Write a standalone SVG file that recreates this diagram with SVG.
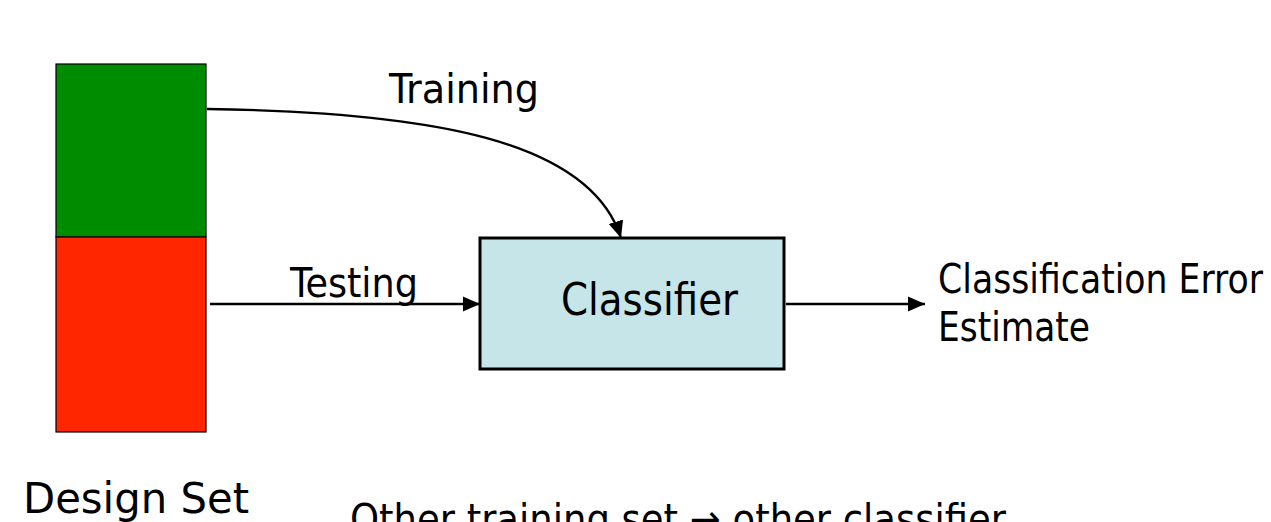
<svg xmlns="http://www.w3.org/2000/svg" width="1271" height="522" viewBox="0 0 1271 522">
<style>
text{font-family:"DejaVu Sans Condensed","DejaVu Sans","Liberation Sans",sans-serif;fill:#000}
.conn{fill:none;stroke:#000;stroke-width:2.4}
</style>
<defs>
<marker id="ah" markerUnits="userSpaceOnUse" markerWidth="18" markerHeight="16" refX="17" refY="8" orient="auto">
<path d="M0,0.5 L17,8 L0,15.5 Z" fill="#000"/>
</marker>
</defs>
<rect width="1271" height="522" fill="#fff"/>
<g id="design-set">
<rect x="56" y="64" width="150" height="173" fill="#008C00" stroke="#000" stroke-width="1.2"/>
<rect x="56" y="237" width="150" height="195" fill="#FF2600" stroke="#000" stroke-width="1.2"/>
<text x="23" y="513" font-size="42" textLength="226" lengthAdjust="spacingAndGlyphs">Design Set</text>
</g>
<g id="classifier">
<rect x="480" y="238" width="304" height="131" fill="#C5E5E8" stroke="#000" stroke-width="3"/>
<text x="561" y="315" font-size="45" textLength="177" lengthAdjust="spacingAndGlyphs">Classifier</text>
</g>
<g id="output">
<text x="938" y="293" font-size="40" textLength="325" lengthAdjust="spacingAndGlyphs">Classification Error</text>
<text x="938" y="341" font-size="40" textLength="152" lengthAdjust="spacingAndGlyphs">Estimate</text>
</g>
<g id="connectors">
<path class="conn" d="M207,109 C430,112 590,140 621,238" marker-end="url(#ah)"/>
<path class="conn" d="M210,304 L480,304" marker-end="url(#ah)"/>
<path class="conn" d="M786,304 L925,304" marker-end="url(#ah)"/>
<text x="389" y="103" font-size="41" textLength="150" lengthAdjust="spacingAndGlyphs">Training</text>
<text x="290" y="297" font-size="41" textLength="128" lengthAdjust="spacingAndGlyphs">Testing</text>
</g>
<text x="350" y="533" font-size="40" textLength="656" lengthAdjust="spacingAndGlyphs">Other training set → other classifier</text>
</svg>
